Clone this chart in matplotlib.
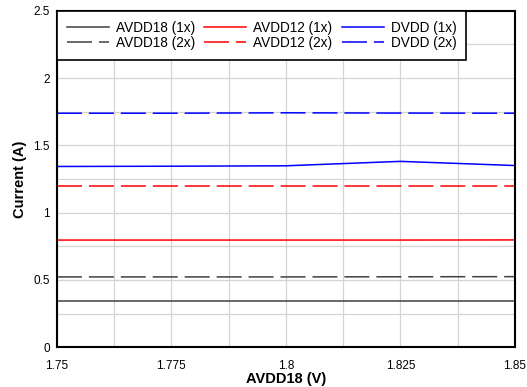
import matplotlib
matplotlib.use('Agg')
from matplotlib import pyplot as plt
from matplotlib.ticker import MultipleLocator

plt.rcParams['font.family'] = ['Liberation Sans', 'DejaVu Sans']
plt.rcParams['lines.scale_dashes'] = False

# supply voltage sweep
vdd = [1.75, 1.775, 1.8, 1.825, 1.85]
xtick_labels = ['1.75', '1.775', '1.8', '1.825', '1.85']
ytick_vals = [0, 0.5, 1, 1.5, 2, 2.5]
ytick_labels = ['0', '0.5', '1', '1.5', '2', '2.5']

avdd18_1x = [0.341, 0.341, 0.341, 0.341, 0.341]
avdd18_2x = [0.522, 0.522, 0.522, 0.523, 0.524]
avdd12_1x = [0.796, 0.796, 0.796, 0.796, 0.797]
avdd12_2x = [1.200, 1.200, 1.200, 1.200, 1.200]
dvdd_1x = [1.343, 1.345, 1.348, 1.381, 1.350]
dvdd_2x = [1.739, 1.739, 1.742, 1.740, 1.739]

series = [
    ('AVDD18 (1x)', avdd18_1x, '#404040', '-'),
    ('AVDD18 (2x)', avdd18_2x, '#404040', '--'),
    ('AVDD12 (1x)', avdd12_1x, '#ff0000', '-'),
    ('AVDD12 (2x)', avdd12_2x, '#ff0000', '--'),
    ('DVDD (1x)', dvdd_1x, '#0000ff', '-'),
    ('DVDD (2x)', dvdd_2x, '#0000ff', '--'),
]

fig = plt.figure(figsize=(5.27, 3.87), dpi=100)
ax = fig.add_axes([0.108, 0.103, 0.869, 0.869])

for label, vals, color, ls in series:
    line, = ax.plot(vdd, vals, color=color, linewidth=1.1, label=label)
    if ls == '--':
        line.set_dashes((18, 5))

ax.set_xlim(1.75, 1.85)
ax.set_ylim(0, 2.5)
ax.set_xticks(vdd)
ax.set_xticklabels(xtick_labels)
ax.set_yticks(ytick_vals)
ax.set_yticklabels(ytick_labels)
ax.xaxis.set_minor_locator(MultipleLocator(0.0125))
ax.yaxis.set_minor_locator(MultipleLocator(0.25))

ax.grid(True, which='both', color='#d4d4d4', linewidth=0.9)
ax.set_axisbelow(True)
ax.tick_params(which='both', length=0, labelsize=8.5)
ax.tick_params(axis='x', pad=9)
ax.tick_params(axis='y', pad=5)
for s in ax.spines.values():
    s.set_linewidth(1.5)
    s.set_color('black')

ax.set_xlabel('AVDD18 (V)', fontsize=10.5, fontweight='bold', labelpad=0)
ax.set_ylabel('Current (A)', fontsize=10.5, fontweight='bold', labelpad=5)

leg = ax.legend(ncol=3, loc='upper left', bbox_to_anchor=(0, 1), borderaxespad=0,
                fontsize=9.8, fancybox=False, framealpha=1, edgecolor='black',
                handlelength=3.1, handletextpad=0.5, columnspacing=0.68,
                labelspacing=0.1, borderpad=0.72)
leg.get_frame().set_linewidth(1.2)

plt.savefig('out.png', dpi=100)
